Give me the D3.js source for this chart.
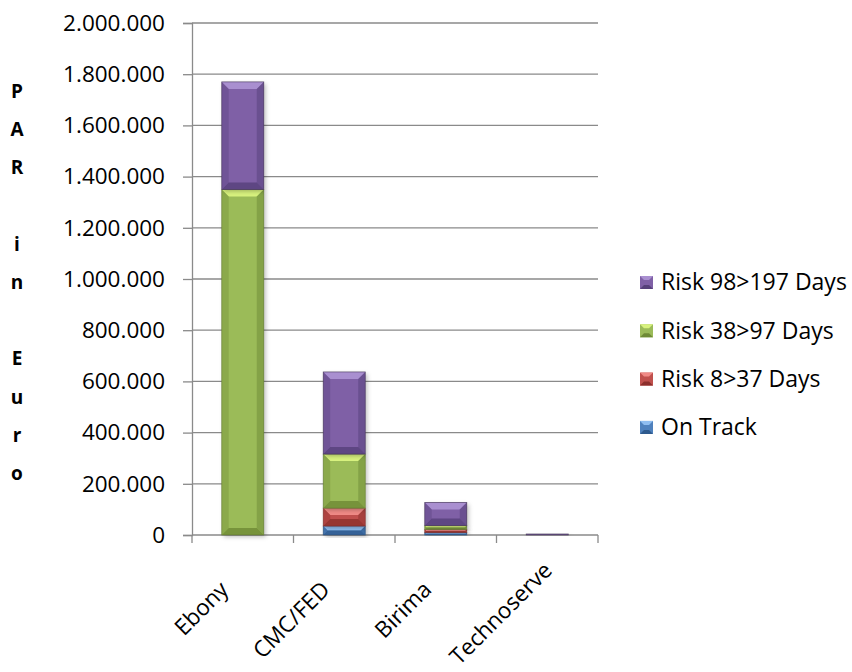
<!DOCTYPE html>
<html lang="en">
<head>
    <script src='https://d3js.org/d3.v7.min.js'></script>
</head>
<body style="margin:0;background:#fff">
<style>
svg text {
font-family: "Open Sans", sans-serif;
fill: #000;
}
</style>
<script>
// chart data
var categories = ["Ebony", "CMC/FED", "Birima", "Technoserve"];
var seriesNames = ["On Track", "Risk 8>37 Days", "Risk 38>97 Days", "Risk 98>197 Days"];
var onTrack = [0, 35000, 10000, 0];
var risk8to37 = [0, 70000, 12000, 0];
var risk38to97 = [1350000, 211000, 15000, 0];
var risk98to197 = [420000, 321000, 90000, 4000];
var yTicks = [0, 200000, 400000, 600000, 800000, 1000000, 1200000, 1400000, 1600000, 1800000, 2000000];
var yTitle = "PAR in Euro";

var width = 852;
var height = 672;

// colours: base, light top bevel, dark bottom bevel, outline
var colours = [
  {base: "#4f81bd", top: "#8fbdf0", bottom: "#2e5a8e", edge: "#2c4d75"},
  {base: "#c0504d", top: "#f08a86", bottom: "#8c2f2c", edge: "#772c2a"},
  {base: "#9bbb59", top: "#d8f27e", bottom: "#6e8a35", edge: "#5f7530"},
  {base: "#7f60a6", top: "#a98fd0", bottom: "#56407a", edge: "#3f3151"}
];

// build a table for d3.stack
var table = categories.map(function(c, i) {
  return {cat: c, s0: onTrack[i], s1: risk8to37[i], s2: risk38to97[i], s3: risk98to197[i]};
});
var stacked = d3.stack().keys(["s0", "s1", "s2", "s3"])(table);

var svg = d3.select("body")
.append("svg")
.attr("width", width)
.attr("height", height);

var defs = svg.append("defs");
var shadow = defs.append("filter").attr("id", "shadow")
.attr("x", "-20%").attr("y", "-20%").attr("width", "150%").attr("height", "150%");
shadow.append("feDropShadow")
.attr("dx", 2).attr("dy", 2).attr("stdDeviation", 2)
.attr("flood-color", "#000").attr("flood-opacity", 0.25);

var x = d3.scaleBand()
.domain(categories)
.range([192, 598])
.paddingInner(0.586)
.paddingOuter(0.293);

var y = d3.scaleLinear()
.domain([0, 2000000])
.range([535, 23]);

var fmt = d3.formatLocale({decimal: ",", thousands: ".", grouping: [3], currency: ["", ""]}).format(",d");

// gridlines
svg.append("g")
.selectAll("line")
.data(yTicks.slice(1))
.enter()
.append("line")
.attr("x1", 192).attr("x2", 598)
.attr("y1", function(d) { return y(d); })
.attr("y2", function(d) { return y(d); })
.attr("stroke", "#8a8a8a")
.attr("stroke-width", 1.3);

// y axis
var yAxis = d3.axisLeft(y).tickValues(yTicks).tickFormat(fmt).tickSize(9).tickPadding(18);
var yg = svg.append("g").attr("transform", "translate(192,0)").call(yAxis);
yg.select(".domain").attr("stroke", "#8a8a8a").attr("stroke-width", 1.3);
yg.selectAll(".tick line").attr("stroke", "#8a8a8a").attr("stroke-width", 1.3);
yg.selectAll(".tick text").style("font-size", "22.5px").style("font-family", "'Open Sans', sans-serif").attr("fill", "#000");

// x axis line and boundary ticks
svg.append("line")
.attr("x1", 192).attr("x2", 598)
.attr("y1", y(0)).attr("y2", y(0))
.attr("stroke", "#8a8a8a").attr("stroke-width", 1.3);
var bounds = [x.range()[0]].concat(categories.map(function(c) { return x(c) + x.bandwidth() / 2 + x.step() / 2; }));
svg.append("g")
.selectAll("line")
.data(bounds)
.enter()
.append("line")
.attr("x1", function(d) { return d; })
.attr("x2", function(d) { return d; })
.attr("y1", y(0)).attr("y2", y(0) + 8)
.attr("stroke", "#8a8a8a").attr("stroke-width", 1.3);

// bars with bevel look
var layers = svg.append("g").selectAll("g")
.data(stacked)
.enter()
.append("g");

layers.each(function(layer, li) {
  var col = colours[li];
  var g = d3.select(this);
  layer.forEach(function(d) {
    var x0 = x(d.data.cat), w = x.bandwidth();
    var yTop = y(d[1]), yBot = y(d[0]);
    var h = yBot - yTop;
    if (h <= 0) return;
    var b = Math.min(7, h / 2);
    var seg = g.append("g");
    seg.append("rect")
    .attr("x", x0).attr("y", yTop).attr("width", w).attr("height", h)
    .attr("fill", col.base)
    .attr("filter", "url(#shadow)");
    // top bevel
    seg.append("polygon")
    .attr("points", [[x0, yTop], [x0 + w, yTop], [x0 + w - b, yTop + b], [x0 + b, yTop + b]].join(" "))
    .attr("fill", col.top);
    // bottom bevel
    seg.append("polygon")
    .attr("points", [[x0, yBot], [x0 + w, yBot], [x0 + w - b, yBot - b], [x0 + b, yBot - b]].join(" "))
    .attr("fill", col.bottom).attr("opacity", 0.8);
    // side bevels
    seg.append("polygon")
    .attr("points", [[x0, yTop], [x0 + b, yTop + b], [x0 + b, yBot - b], [x0, yBot]].join(" "))
    .attr("fill", col.bottom).attr("opacity", 0.35);
    seg.append("polygon")
    .attr("points", [[x0 + w, yTop], [x0 + w - b, yTop + b], [x0 + w - b, yBot - b], [x0 + w, yBot]].join(" "))
    .attr("fill", col.bottom).attr("opacity", 0.5);
    seg.append("rect")
    .attr("x", x0).attr("y", yTop).attr("width", w).attr("height", h)
    .attr("fill", "none").attr("stroke", col.edge).attr("stroke-width", 0.8).attr("opacity", 0.7);
  });
});

// category labels, rotated; a label that would run off the bottom slides up along its direction
var labelY = 591;
var maxStartY = 666;
svg.append("g")
.selectAll("text")
.data(categories)
.enter()
.append("text")
.attr("text-anchor", "end")
.style("font-size", "22.5px")
.text(function(d) { return d; })
.attr("transform", function(d) {
  var L = this.getComputedTextLength() * Math.SQRT1_2;
  var shift = Math.max(0, labelY + L - maxStartY);
  var ax = x(d) + x.bandwidth() / 2 - 13 + shift;
  var ay = labelY - shift;
  return "translate(" + ax + "," + ay + ") rotate(-45)";
});

// y title, one letter per line
var letters = yTitle.split("");
svg.append("g")
.selectAll("text")
.data(letters)
.enter()
.append("text")
.attr("x", 17)
.attr("y", function(d, i) { return 98 + i * 38.2; })
.attr("text-anchor", "middle")
.style("font-size", "19px")
.style("font-weight", "bold")
.text(function(d) { return d; });

// legend (reverse order, top = last series)
var legendOrder = [3, 2, 1, 0];
var legend = svg.append("g")
.selectAll("g")
.data(legendOrder)
.enter()
.append("g")
.attr("transform", function(d, i) { return "translate(640," + (282 + i * 48.3) + ")"; });
legend.append("rect")
.attr("x", 0).attr("y", -6).attr("width", 13).attr("height", 13)
.attr("fill", function(d) { return colours[d].base; });
legend.append("polygon")
.attr("points", "0,-6 13,-6 9,-2 4,-2")
.attr("fill", function(d) { return colours[d].top; });
legend.append("polygon")
.attr("points", "0,7 13,7 9,3 4,3")
.attr("fill", function(d) { return colours[d].bottom; });
legend.append("text")
.attr("x", 21)
.attr("y", 0)
.attr("dy", "0.36em")
.style("font-size", "23px")
.text(function(d) { return seriesNames[d]; });
</script>
</body>
</html>
